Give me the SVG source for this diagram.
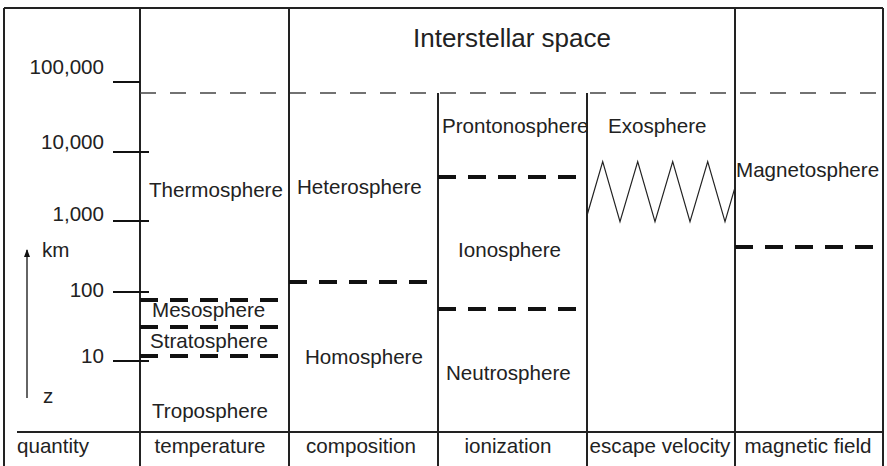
<svg xmlns="http://www.w3.org/2000/svg" width="887" height="466" viewBox="0 0 887 466">
<style>
text{font-family:"Liberation Sans",Arial,sans-serif;font-size:20.6px;fill:#222}
.big{font-size:26px}
.frame{stroke:#222;stroke-width:2;fill:none}
.tick{stroke:#111;stroke-width:2}
.thick{stroke:#111;stroke-width:4;stroke-dasharray:18 12;fill:none}
.thin{stroke:#444;stroke-width:1.4;stroke-dasharray:16 14;fill:none}
.zig{stroke:#222;stroke-width:1.2;fill:none}
</style>
<defs>
<marker id="ah" markerWidth="8" markerHeight="8" refX="7" refY="4" orient="auto" markerUnits="userSpaceOnUse" viewBox="0 0 8 8">
<path d="M8,4 L0,1 L0,7 Z" fill="#111"/>
</marker>
</defs>
<g id="frame">
<line class="frame" x1="4" y1="8" x2="883" y2="8"/>
<line class="frame" x1="4" y1="8" x2="4" y2="466"/>
<line class="frame" x1="883" y1="8" x2="883" y2="466"/>
<line class="frame" x1="140" y1="8" x2="140" y2="466"/>
<line class="frame" x1="289" y1="8" x2="289" y2="466"/>
<line class="frame" x1="438" y1="93" x2="438" y2="466"/>
<line class="frame" x1="587" y1="93" x2="587" y2="466"/>
<line class="frame" x1="735" y1="8" x2="735" y2="466"/>
<line class="frame" x1="17" y1="432" x2="883" y2="432"/>
<line class="thin" x1="140" y1="93" x2="883" y2="93"/>
</g>
<g id="axis">
<line class="tick" x1="113" y1="82" x2="140" y2="82"/>
<line class="tick" x1="113" y1="152" x2="149" y2="152"/>
<line class="tick" x1="113" y1="221" x2="149" y2="221"/>
<line class="tick" x1="113" y1="292" x2="149" y2="292"/>
<line class="tick" x1="113" y1="361" x2="149" y2="361"/>
<text x="104" y="74" text-anchor="end">100,000</text>
<text x="104" y="149" text-anchor="end">10,000</text>
<text x="104" y="221" text-anchor="end">1,000</text>
<text x="104" y="297" text-anchor="end">100</text>
<text x="104" y="363" text-anchor="end">10</text>
<line x1="27" y1="398" x2="27" y2="250" stroke="#111" stroke-width="1.3" marker-end="url(#ah)"/>
<text x="42" y="257">km</text>
<text x="43" y="403">z</text>
<text x="17" y="453">quantity</text>
</g>
<g id="interstellar">
<text class="big" x="512" y="47" text-anchor="middle">Interstellar space</text>
</g>
<g id="temperature">
<text x="149" y="197">Thermosphere</text>
<line class="thick" x1="140" y1="300" x2="280" y2="300"/>
<text x="152" y="317">Mesosphere</text>
<line class="thick" x1="140" y1="327" x2="280" y2="327"/>
<text x="150" y="348">Stratosphere</text>
<line class="thick" x1="140" y1="356" x2="280" y2="356"/>
<text x="152" y="418">Troposphere</text>
<text x="210" y="453" text-anchor="middle">temperature</text>
</g>
<g id="composition">
<text x="297" y="194">Heterosphere</text>
<line class="thick" x1="289" y1="282" x2="429" y2="282"/>
<text x="305" y="364">Homosphere</text>
<text x="361" y="453" text-anchor="middle">composition</text>
</g>
<g id="ionization">
<text x="442" y="133">Prontonosphere</text>
<line class="thick" x1="438" y1="177" x2="578" y2="177"/>
<text x="458" y="257">Ionosphere</text>
<line class="thick" x1="438" y1="309" x2="578" y2="309"/>
<text x="446" y="380">Neutrosphere</text>
<text x="508" y="453" text-anchor="middle">ionization</text>
</g>
<g id="escape">
<text x="608" y="133">Exosphere</text>
<polyline class="zig" points="587,215.5 602.7,161.7 620,221.7 637.7,161.7 655,221.7 672.7,161.7 690,221.7 707.7,161.7 725,221.7 735,187.4"/>
<text x="660" y="453" text-anchor="middle">escape velocity</text>
</g>
<g id="magnetic">
<text x="736" y="177">Magnetosphere</text>
<line class="thick" x1="735" y1="247" x2="875" y2="247"/>
<text x="808" y="453" text-anchor="middle">magnetic field</text>
</g>
</svg>
